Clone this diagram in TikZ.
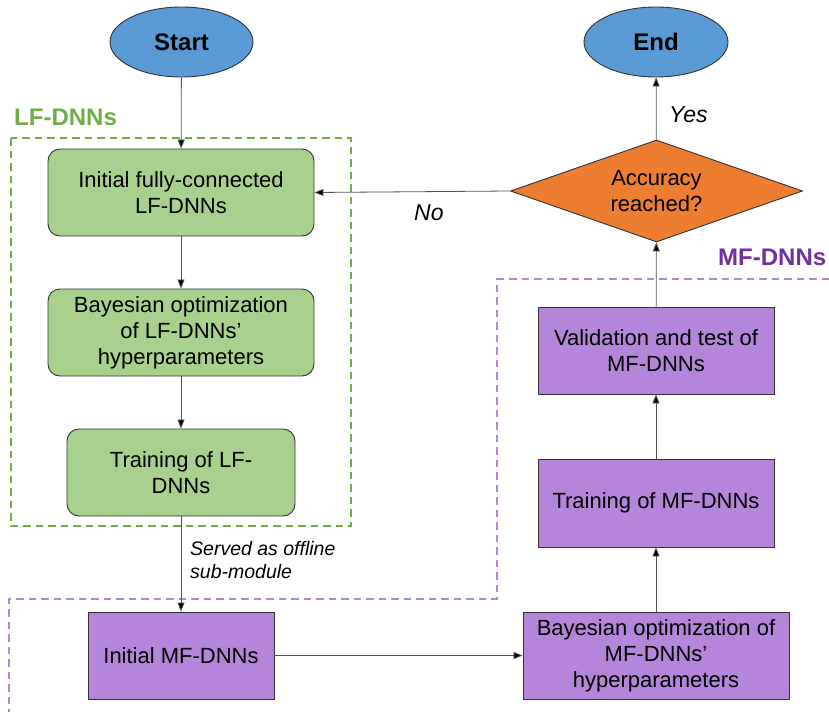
\documentclass[tikz,border=0pt]{standalone}
\usepackage{fontspec}
\setmainfont{Liberation Sans}
\usetikzlibrary{shapes.geometric,arrows.meta}
\definecolor{blueF}{HTML}{5B9BD5}
\definecolor{greenF}{HTML}{A9D18E}
\definecolor{orangeF}{HTML}{ED7D31}
\definecolor{purpleF}{HTML}{B585D9}
\definecolor{purpleT}{HTML}{7030A0}
\definecolor{greenT}{HTML}{70AD47}
\definecolor{borderC}{HTML}{333333}
\definecolor{lineC}{HTML}{555555}
\tikzset{
  boxtxt/.style={font=\fontsize{22}{26}\selectfont, align=center, inner sep=0pt},
  term/.style={ellipse, draw=borderC, line width=0.9pt, fill=blueF, inner sep=0pt,
    font=\fontsize{24}{28}\selectfont\bfseries},
  lfbox/.style={boxtxt, rectangle, rounded corners=12pt, draw=borderC, line width=0.9pt, fill=greenF},
  mfbox/.style={boxtxt, rectangle, draw=borderC, line width=0.9pt, fill=purpleF},
  decbox/.style={boxtxt, diamond, aspect=2.86, draw=borderC, line width=0.9pt, fill=orangeF},
  arr/.style={draw=lineC, line width=0.8pt, -{Triangle[length=9pt,width=7pt,fill=black]}},
  grpdash/.style={line width=2pt, dash pattern=on 7.5pt off 5pt},
  lbl/.style={inner sep=0pt, font=\fontsize{23}{27}\selectfont\itshape},
}
\begin{document}
\begin{tikzpicture}[x=1pt,y=-1pt]
\useasboundingbox (0,0) rectangle (829,712);
% group boundaries
\draw[grpdash, greenT] (11,138) rectangle (351,526);
\draw[grpdash, purpleF] (829,279) -- (497,279) -- (497,598.5) -- (9,598.5) -- (9,712);
\node[anchor=west, inner sep=0pt, text=greenT, font=\fontsize{24}{28}\selectfont\bfseries] (lflabel) at (14,117) {LF-DNNs};
\node[anchor=west, inner sep=0pt, text=purpleT, font=\fontsize{24}{28}\selectfont\bfseries] (mflabel) at (718,257) {MF-DNNs};
% nodes
\node[term, minimum width=143pt, minimum height=70pt] (start) at (181.5,42) {Start};
\node[term, minimum width=144pt, minimum height=70pt] (endn) at (656,42) {End};
\node[lfbox, minimum width=266pt, minimum height=87pt] (lf1) at (181,192.5) {Initial fully-connected\\LF-DNNs};
\node[lfbox, minimum width=266pt, minimum height=87pt] (lf2) at (181,332.5) {Bayesian optimization\\of LF-DNNs’\\hyperparameters};
\node[lfbox, minimum width=228pt, minimum height=87pt] (lf3) at (181,472.5) {Training of LF-\\DNNs};
\node[mfbox, minimum width=186pt, minimum height=87pt] (mf1) at (181,655.5) {Initial MF-DNNs};
\node[mfbox, minimum width=266pt, minimum height=87pt] (mf2) at (656,655.5) {Bayesian optimization of\\MF-DNNs’\\hyperparameters};
\node[mfbox, minimum width=236pt, minimum height=88pt] (mf3) at (656,503) {Training of MF-DNNs};
\node[mfbox, minimum width=236pt, minimum height=87pt] (mf4) at (656,350.5) {Validation and test of\\MF-DNNs};
\node[decbox, minimum width=292pt, minimum height=102pt] (dec) at (656.5,191) {Accuracy\\reached?};
% labels
\node[lbl, anchor=west] (yes) at (669,115) {Yes};
\node[lbl, anchor=west] (no) at (414,213) {No};
\node[anchor=north west, inner sep=0pt, align=left, font=\fontsize{19.5}{23}\selectfont\itshape] (served) at (190,541) {Served as offline\\sub-module};
% connectors
\draw[arr] (start) -- (lf1);
\draw[arr] (lf1) -- (lf2);
\draw[arr] (lf2) -- (lf3);
\draw[arr] (lf3) -- (mf1);
\draw[arr] (mf1) -- (mf2);
\draw[arr] (mf2) -- (mf3);
\draw[arr] (mf3) -- (mf4);
\draw[arr] (mf4) -- (dec);
\draw[arr] (dec) -- (endn);
\draw[arr] (dec.west) -- (lf1.east);
\end{tikzpicture}
\end{document}
